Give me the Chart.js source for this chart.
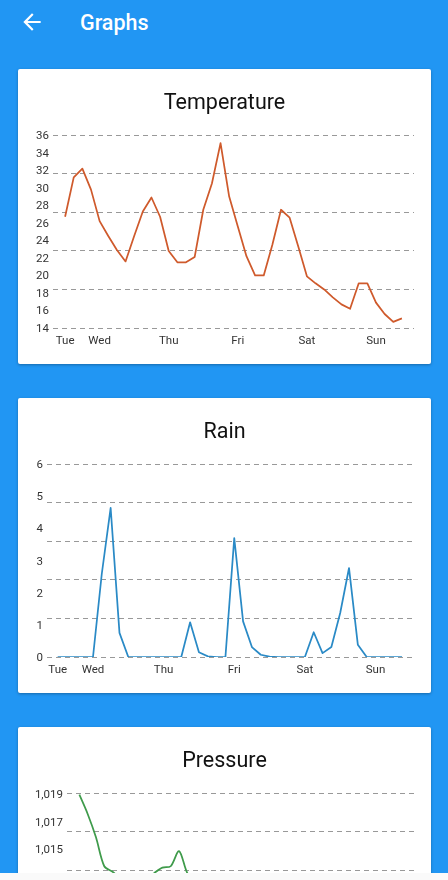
<!DOCTYPE html>
<html>
<head>
<meta charset="utf-8">
<title>Graphs</title>
<script src="https://cdn.jsdelivr.net/npm/chart.js@4/dist/chart.umd.min.js"></script>
<style>
html, body { margin: 0; padding: 0; width: 448px; height: 880px; overflow: hidden; background: #2196F3; font-family: Roboto, sans-serif; }
.back { position: absolute; left: 19px; top: 9px; width: 26px; height: 26px; fill: #fff; }
.heading { position: absolute; left: 80px; top: 10px; color: #fff; font-size: 21.5px; font-weight: 500; line-height: 26px; }
.card { position: absolute; left: 18px; width: 413px; height: 295px; background: #fff; border-radius: 2px; box-shadow: 0 1px 3px rgba(0,0,0,.3); }
.bottom { position: absolute; left: 0; top: 873px; width: 448px; height: 7px; background: #fafafa; }
</style>
</head>
<body>
<svg class="back" viewBox="0 0 24 24"><path d="M20 11H7.83l5.59-5.59L12 4l-8 8 8 8 1.41-1.41L7.83 13H20v-2z"/></svg>
<div class="heading">Graphs</div>
<div class="card" style="top:69px"><canvas id="temperature" width="413" height="295"></canvas></div>
<div class="card" style="top:398px"><canvas id="rain" width="413" height="295"></canvas></div>
<div class="card" style="top:727px"><canvas id="pressure" width="413" height="295"></canvas></div>
<div class="bottom"></div>
<script>
// x ticks: sample index where each day label sits
const dayNames = ['Tue', 'Wed', 'Thu', 'Fri', 'Sat', 'Sun'];
const dayIndexes = [0, 4, 12, 20, 28, 36];

const temperature = [26.7, 31.2, 32.2, 29.8, 26.2, 24.5, 22.9, 21.6, 24.5, 27.3,
  28.9, 26.7, 22.8, 21.5, 21.5, 22.1, 27.5, 30.5, 35.1, 29.0,
  25.6, 22.2, 20.0, 20.0, 23.5, 27.5, 26.6, 23.3, 19.9, 19.1,
  18.4, 17.5, 16.7, 16.2, 19.1, 19.1, 16.9, 15.6, 14.7, 15.1];

const rain = [0, 0, 0, 0, 0, 2.6, 4.64, 0.75, 0, 0,
  0, 0, 0, 0, 0, 1.08, 0.15, 0.02, 0, 0,
  3.7, 1.11, 0.31, 0.07, 0.01, 0, 0, 0, 0, 0.77,
  0.12, 0.31, 1.37, 2.77, 0.38, 0, 0, 0, 0, 0];

// the rest of this series is below the bottom of the screen
const pressure = [1018.9, 1017.5, 1015.8, 1013.7, 1013.3, 1012.8, 1012.5, 1012.5, 1012.7, 1013.2,
  1013.6, 1013.7, 1014.8, 1013.2, 1012.5];

function makeChart(id, title, values, color, yRange, xRange, axisWidth, tension, labelShift) {
  new Chart(document.getElementById(id), {
    type: 'line',
    data: {
      datasets: [{
        data: values.map((v, i) => ({ x: i, y: v })),
        borderColor: color,
        borderWidth: 1.75,
        borderJoinStyle: 'round',
        pointRadius: 0,
        tension: tension,
        yAxisID: 'y'
      }]
    },
    options: {
      responsive: false,
      animation: false,
      plugins: {
        legend: { display: false },
        tooltip: { enabled: false },
        title: {
          display: true,
          text: title,
          color: '#111',
          font: { family: 'Roboto', size: 21.5, weight: 'normal' },
          padding: { top: 22, bottom: 18.5 }
        }
      },
      scales: {
        x: {
          type: 'linear',
          min: xRange[0],
          max: xRange[1],
          grid: { display: false, drawTicks: false },
          border: { display: false },
          afterBuildTicks: scale => { scale.ticks = dayIndexes.map(v => ({ value: v })); },
          afterFit: scale => { scale.height = 36; },
          ticks: {
            autoSkip: false,
            maxRotation: 0,
            padding: 6,
            color: '#333',
            font: { family: 'Roboto', size: 11.5 },
            callback: v => dayNames[dayIndexes.indexOf(v)]
          }
        },
        y: {
          min: yRange[0],
          max: yRange[1],
          grid: { display: false, drawTicks: false },
          border: { display: false },
          afterFit: scale => { scale.width = axisWidth; },
          ticks: {
            stepSize: yRange[2],
            autoSkip: false,
            padding: 4,
            labelOffset: labelShift,
            color: '#333',
            font: { family: 'Roboto', size: 11.5 },
            callback: v => v.toLocaleString('en-US')
          }
        },
        // the dashed lines do not follow the labels, they have their own five steps
        lines: {
          position: 'right',
          min: 0,
          max: 5,
          grid: { color: '#999', lineWidth: 1, drawTicks: false },
          border: { display: false, dash: [5, 4] },
          afterFit: scale => { scale.width = 17; },
          ticks: { display: false, stepSize: 1 }
        }
      }
    }
  });
}

makeChart('temperature', 'Temperature', temperature, '#CF5A2C', [14, 36, 2], [-1.4, 40.4], 35, 0, 1);
makeChart('rain', 'Rain', rain, '#2A8AC6', [0, 6, 1], [-1.21, 40.36], 29, 0, 1);
makeChart('pressure', 'Pressure', pressure, '#3F9B4B', [1005, 1019, 2], [-1.49, 40.3], 49, 0.3, 2);
</script>
</body>
</html>
